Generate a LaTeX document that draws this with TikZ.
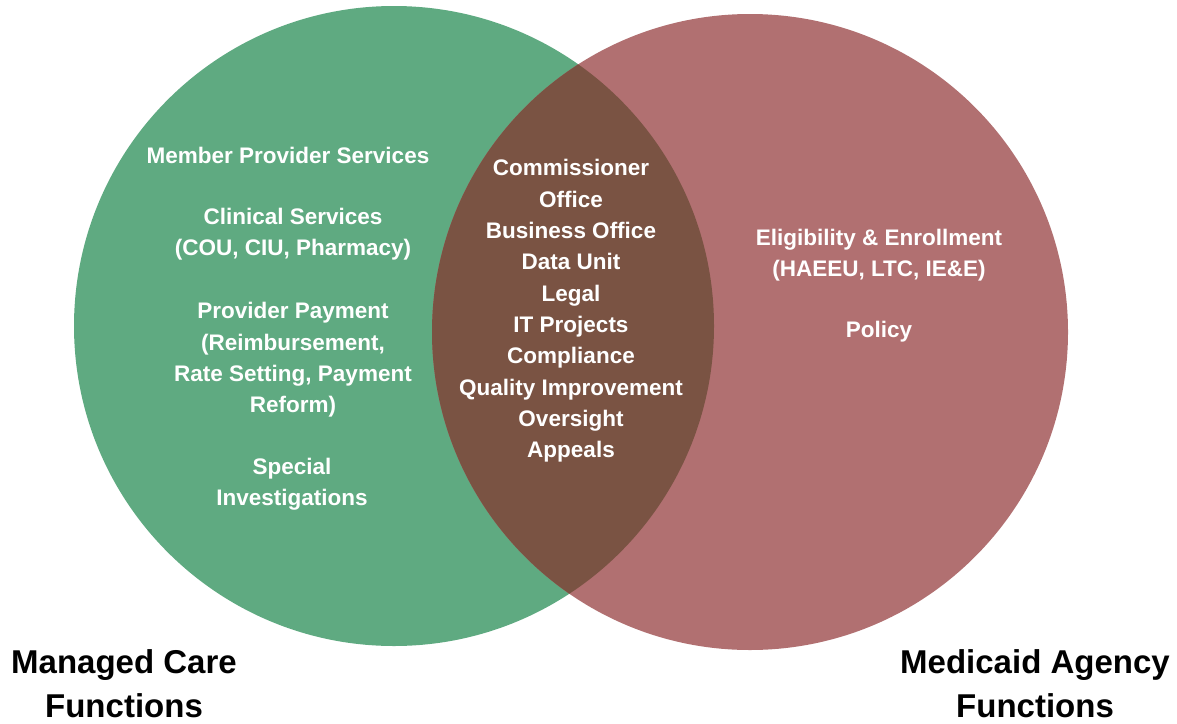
\documentclass[tikz,border=0pt]{standalone}
\usepackage{fontspec}
\setmainfont{Liberation Sans}
\definecolor{mcgreen}{RGB}{95,170,129}
\definecolor{marose}{RGB}{177,112,113}
\definecolor{overlap}{RGB}{122,83,67}

\begin{document}
\begin{tikzpicture}[x=1pt,y=-1pt,
  inset/.style={text=white,font=\bfseries\fontsize{22.5}{31.3}\selectfont,align=center,inner sep=0pt},
  caption/.style={text=black,font=\bfseries\fontsize{33}{44}\selectfont,align=center,inner sep=0pt}]
  \useasboundingbox (0,0) rectangle (1177,723);
  \coordinate (mc) at (394,326);
  \coordinate (ma) at (750,332);
  \fill[mcgreen] (mc) circle (320pt);
  \fill[marose] (ma) circle (318pt);
  \begin{scope}
    \clip (mc) circle (320pt);
    \fill[overlap] (ma) circle (318pt);
  \end{scope}

  \node[inset] (mps) at (288,155) {Member Provider Services};
  \node[inset] (clin) at (293,234.5) {Clinical Services\\(COU, CIU, Pharmacy)};
  \node[inset] (pay) at (293,360) {Provider Payment\\(Reimbursement,\\Rate Setting, Payment\\Reform)};
  \node[inset] (siu) at (292,484.5) {Special\\Investigations};

  \node[inset] (shared) at (571,311) {Commissioner\\Office\\Business Office\\Data Unit\\Legal\\IT Projects\\Compliance\\Quality Improvement\\Oversight\\Appeals};

  \node[inset] (elig) at (879,255.5) {Eligibility \& Enrollment\\(HAEEU, LTC, IE\&E)};
  \node[inset] (pol) at (879,332) {Policy};

  \node[caption] (mclabel) at (124,684) {Managed Care\\Functions};
  \node[caption] (malabel) at (1035,684) {Medicaid Agency\\Functions};
\end{tikzpicture}
\end{document}
